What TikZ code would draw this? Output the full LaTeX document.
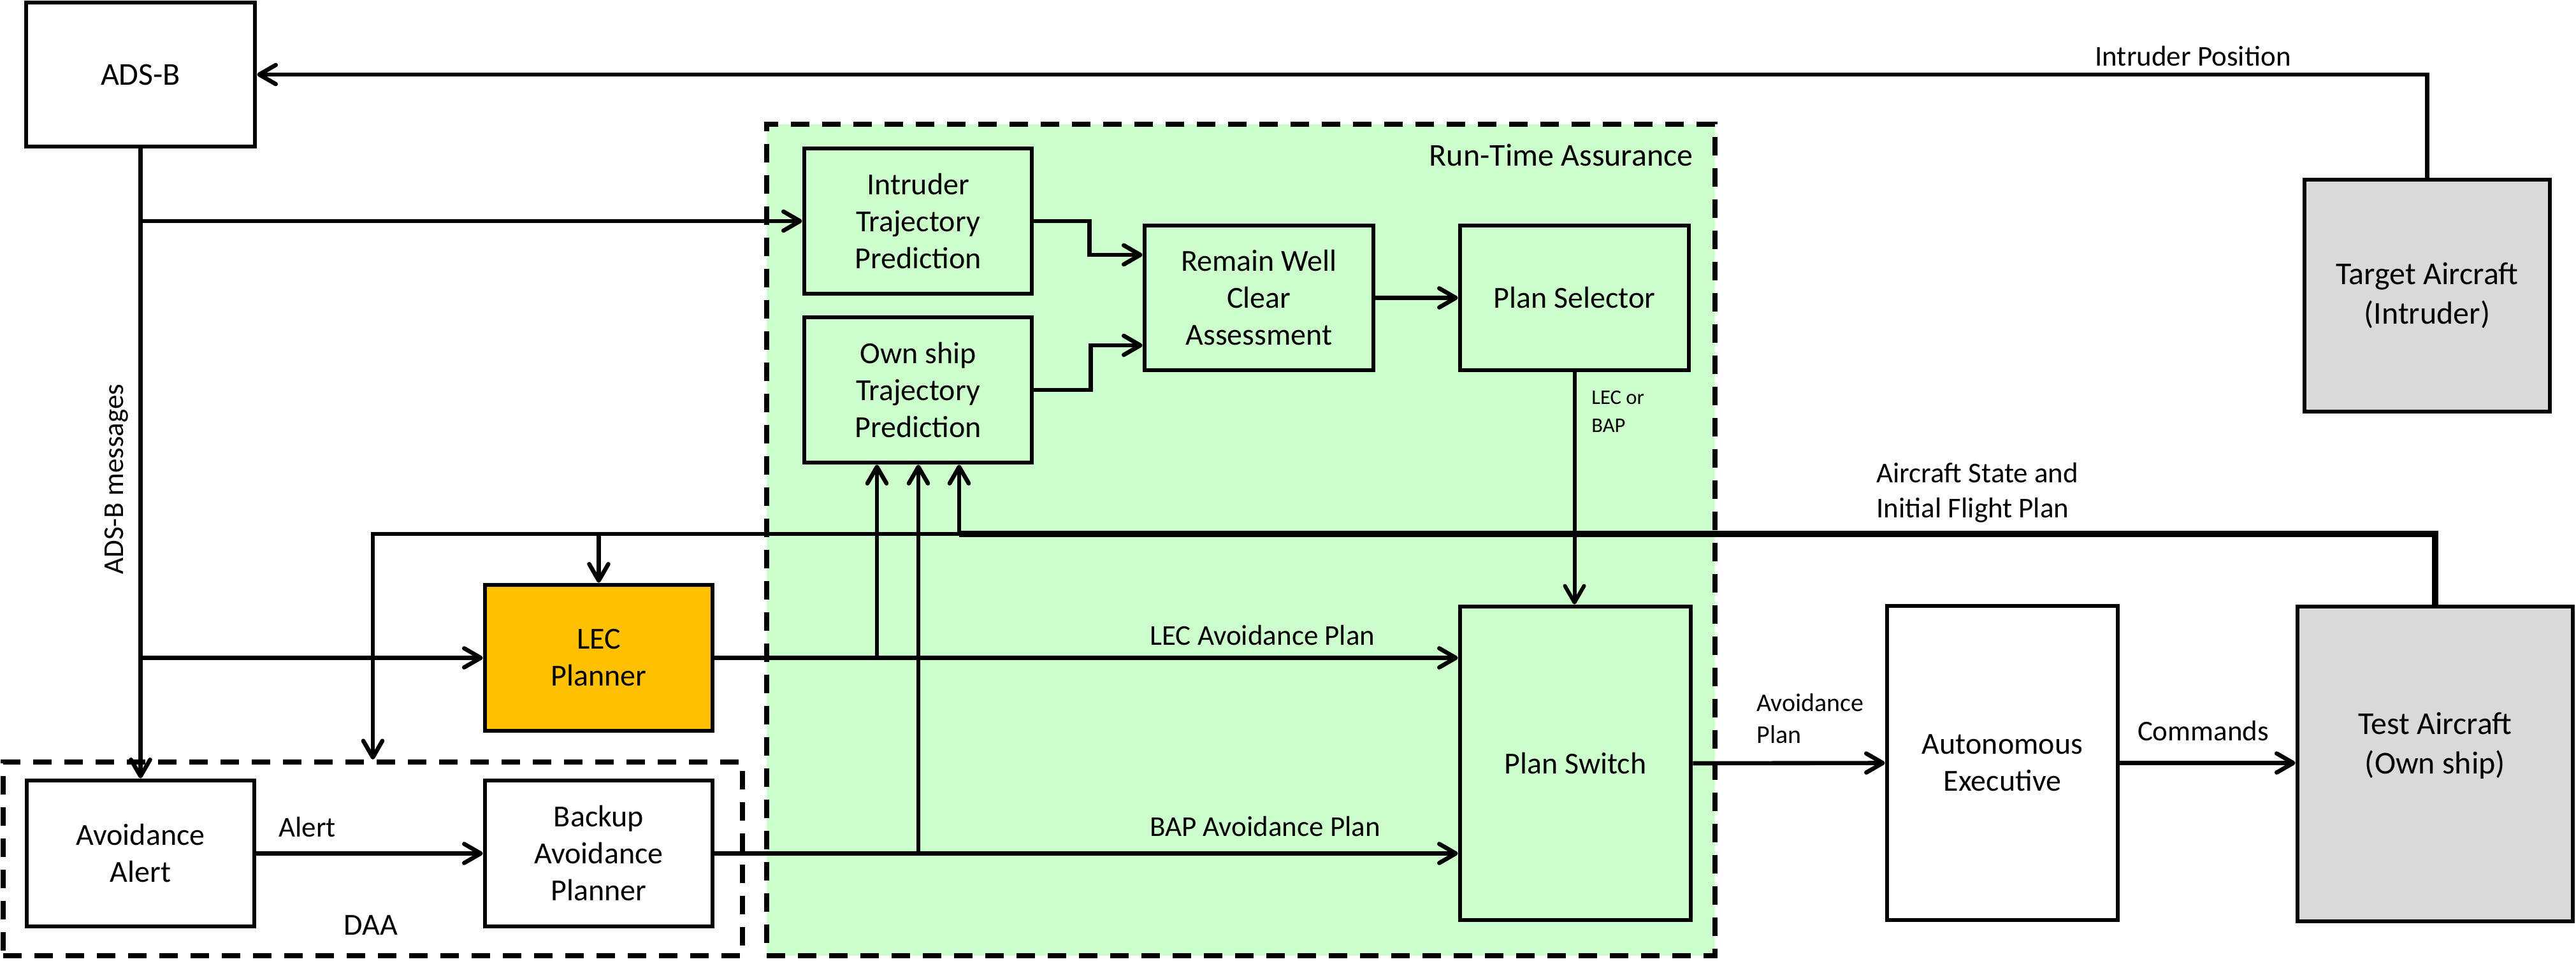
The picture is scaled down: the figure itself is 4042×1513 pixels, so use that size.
\documentclass[tikz,border=0pt]{standalone}
\usepackage{fontspec}
\setmainfont{Carlito}
\usetikzlibrary{arrows.meta,calc}
\definecolor{rtagreen}{RGB}{204,255,204}
\definecolor{lecorange}{RGB}{255,192,0}
\definecolor{acgray}{RGB}{217,217,217}
\begin{document}
\begin{tikzpicture}[x=0.5pt,y=-0.5pt,
  box/.style={draw,line width=3.4pt,rectangle,align=center,inner sep=0pt,font=\fontsize{24}{29}\selectfont},
  bigbox/.style={box,font=\fontsize{25}{31}\selectfont},
  lbl/.style={inner sep=0pt,font=\fontsize{22.5}{27.5}\selectfont},
  conn/.style={line width=3.3pt,-{Straight Barb[length=13pt,width=15pt,round]}},
  grp/.style={draw,rectangle,inner sep=0pt,line width=4pt,dash pattern=on 14.5pt off 10pt}]
\useasboundingbox (0,0) rectangle (4042,1513);
% groups
\node[grp,fill=rtagreen,minimum width=744pt,minimum height=652.5pt] (rta) at (1947,847.5) {};
\node[grp,minimum width=580pt,minimum height=152pt] (daa) at (585,1348) {};
% boxes
\node[bigbox,minimum width=179.5pt,minimum height=113pt] (adsb) at (220.5,117) {ADS-B};
\node[box,minimum width=178.5pt,minimum height=114pt] (itp) at (1440.5,347) {Intruder\\Trajectory\\Prediction};
\node[box,minimum width=178.5pt,minimum height=114pt] (otp) at (1440.5,612) {Own ship\\Trajectory\\Prediction};
\node[box,minimum width=179.5pt,minimum height=113.5pt] (rwc) at (1975.5,467.5) {Remain Well\\Clear\\Assessment};
\node[box,minimum width=179.5pt,minimum height=113.5pt] (psel) at (2470.5,467.5) {Plan Selector};
\node[box,minimum width=181pt,minimum height=246pt] (pswitch) at (2472,1198) {Plan Switch};
\node[box,fill=lecorange,minimum width=178.5pt,minimum height=114.5pt] (lec) at (939.5,1032.5) {LEC\\Planner};
\node[box,minimum width=178.5pt,minimum height=114.5pt] (bap) at (939.5,1339.5) {Backup\\Avoidance\\Planner};
\node[box,minimum width=178.5pt,minimum height=114.5pt] (aa) at (220.5,1339.5) {Avoidance\\Alert};
\node[box,minimum width=181pt,minimum height=246.5pt] (ae) at (3142,1197.5) {Autonomous\\Executive};
\node[box,fill=acgray,minimum width=216pt,minimum height=247pt,
  label={[align=center,inner sep=0pt,font=\fontsize{25}{31}\selectfont,yshift=14.5pt]center:{Test Aircraft\\(Own ship)}}] (test) at (3821,1199) {};
\node[bigbox,fill=acgray,minimum width=192.5pt,minimum height=182pt] (target) at (3808.5,464) {Target Aircraft\\(Intruder)};
% connectors
\draw[conn] (target.north) |- (adsb.east);
\draw[conn] (adsb.south) -- (aa.north);
\draw[conn] (adsb.south |- itp.west) -- (itp.west);
\draw[conn] (adsb.south |- lec.west) -- (lec.west);
\coordinate (rwcin1) at ($(rwc.west)+(0,-67.5)$);
\coordinate (rwcin2) at ($(rwc.west)+(0,74.5)$);
\draw[conn] (itp.east) -- ++(87,0) |- (rwcin1);
\draw[conn] (otp.east) -- ++(89,0) |- (rwcin2);
\draw[conn] (rwc.east) -- (psel.west);
\draw[conn,line width=3pt] (psel.south) -- (psel.south |- pswitch.north);
\draw[conn] (lec.east) -- (lec.east -| pswitch.west);
\draw[conn] (bap.east) -- (bap.east -| pswitch.west);
\draw[conn] (aa.east) -- (bap.west);
\draw[conn] (pswitch.east) -- (ae.west);
\draw[conn] (ae.east) -- (ae.east -| test.west);
\coordinate (bus) at (3821,838);
\coordinate (u1) at ($(otp.south)+(-64.5,0)$);
\coordinate (u2) at ($(otp.south)+(0.5,0)$);
\coordinate (u3) at ($(otp.south)+(64.5,0)$);
\draw[conn] (test.north) |- (daa.north |- bus) -- (daa.north);
\draw[line width=5pt] (test.north) |- (u3 |- bus);
\draw[conn] (u3 |- bus) -- (u3);
\draw[conn] (lec.north |- bus) -- (lec.north);
\draw[conn] (u1 |- lec.east) -- (u1);
\draw[conn] (u2 |- bap.east) -- (u2);
% labels
\node[lbl] (lip) at (3441,88) {Intruder Position};
\node[lbl,rotate=90] (lads) at (183,752) {ADS-B messages};
\node[lbl,anchor=east,font=\fontsize{25}{30}\selectfont] (lrta) at (2657,243) {Run-Time Assurance};
\node[lbl,align=left,anchor=west,font=\fontsize{16.3}{22}\selectfont] (llb) at (2497,646) {LEC or\\BAP};
\node[lbl] (llec) at (1981,997) {LEC Avoidance Plan};
\node[lbl] (lbap) at (1985,1297) {BAP Avoidance Plan};
\node[lbl] (lal) at (482,1298) {Alert};
\node[lbl,font=\fontsize{24}{29}\selectfont] (ldaa) at (582,1452) {DAA};
\node[lbl,align=left,anchor=west] (las) at (2944,773) {Aircraft State and\\Initial Flight Plan};
\node[lbl,align=left,anchor=west,font=\fontsize{20}{25}\selectfont] (lap) at (2756,1128) {Avoidance\\Plan};
\node[lbl] (lcmd) at (3457,1147) {Commands};
\end{tikzpicture}
\end{document}
